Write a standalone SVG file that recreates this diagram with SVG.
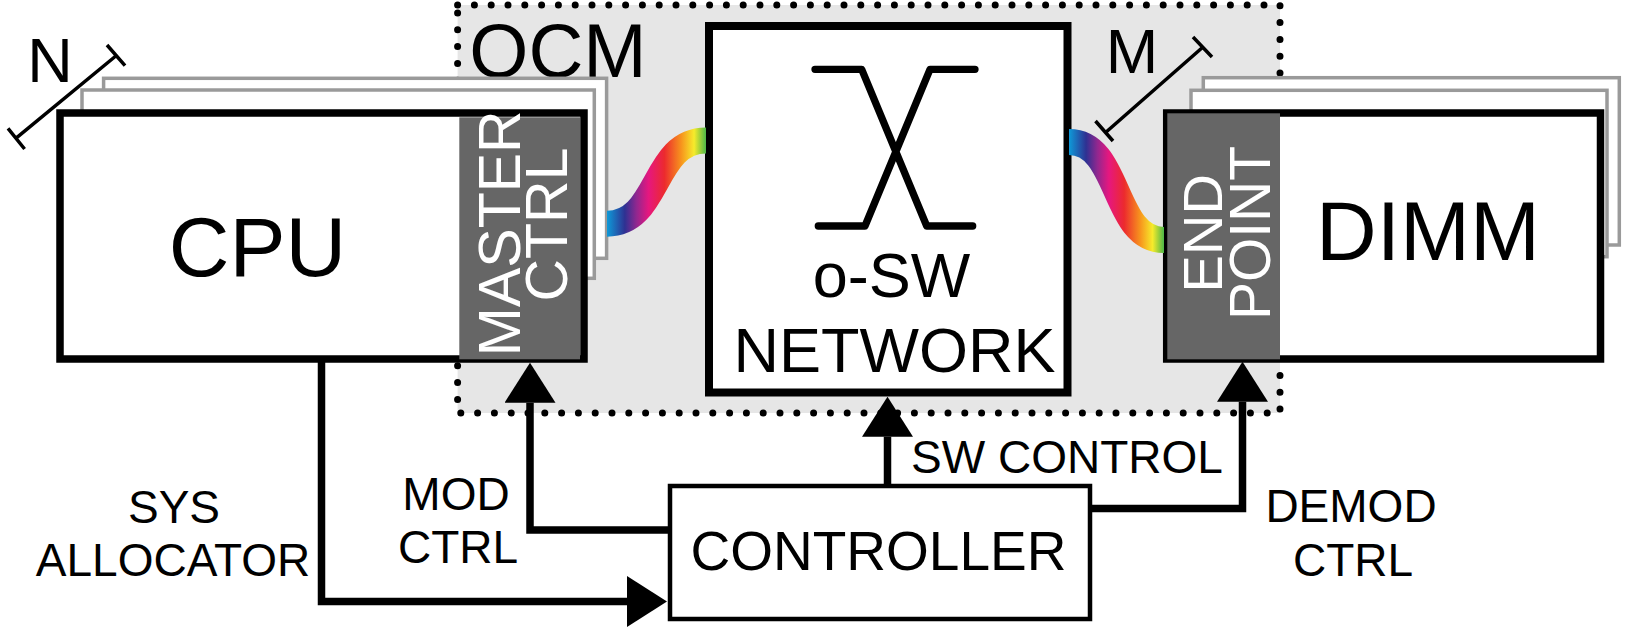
<svg xmlns="http://www.w3.org/2000/svg" width="1630" height="630" viewBox="0 0 1630 630">
<style>
text{font-family:"Liberation Sans",Arial,sans-serif;fill:#000}
.w{fill:#fff}
.back{fill:#fff;stroke:#9a9a9a;stroke-width:3.5}
.main{fill:#fff;stroke:#000;stroke-width:7.5}
.chip{fill:#666}
.conn{fill:none;stroke:#000;stroke-width:7.5;stroke-linejoin:miter}
.tick{fill:none;stroke:#000;stroke-width:3.5}
.wave{fill:none;stroke:url(#rainbow);stroke-width:26}
.lbl{font-size:46px;text-anchor:middle}
</style>
<defs>
<linearGradient id="rainbow" x1="0" y1="0" x2="1" y2="0">
<stop offset="0" stop-color="#0e9ad8"/>
<stop offset="0.18" stop-color="#2e3192"/>
<stop offset="0.3" stop-color="#92278f"/>
<stop offset="0.42" stop-color="#e6177f"/>
<stop offset="0.58" stop-color="#ec2a2e"/>
<stop offset="0.75" stop-color="#f7941d"/>
<stop offset="0.88" stop-color="#f6eb2b"/>
<stop offset="1" stop-color="#4cb748"/>
</linearGradient>
<marker id="ah" markerUnits="userSpaceOnUse" viewBox="0 0 40 51" markerWidth="40" markerHeight="51" refX="0" refY="25.5" orient="auto">
<path d="M0,0 L40,25.5 L0,51 z" fill="#000"/>
</marker>
</defs>

<g id="ocm">
<rect x="457.6" y="5" width="822.4" height="408" fill="#e6e6e6"/>
<rect x="457.6" y="5" width="822.4" height="408" fill="none" stroke="#000" stroke-width="7" stroke-linecap="round" stroke-dasharray="0 16.8"/>
<text x="558" y="77" style="font-size:76px;text-anchor:middle">OCM</text>
</g>

<g id="cpu">
<rect class="back" x="103.6" y="78.3" width="503" height="180"/>
<rect class="back" x="82" y="90" width="512.3" height="188.3"/>
<rect class="main" x="60" y="113" width="524" height="246"/>
<rect class="chip" x="459.3" y="117.3" width="120.7" height="242"/>
<text x="257.5" y="276" style="font-size:84px;text-anchor:middle">CPU</text>
<text class="w" transform="translate(520,233.3) rotate(-90)" style="font-size:59px;text-anchor:middle">MASTER</text>
<text class="w" transform="translate(566.7,224.5) rotate(-90)" style="font-size:59px;text-anchor:middle">CTRL</text>
</g>

<g id="dimm">
<rect class="back" x="1203.3" y="77.7" width="416" height="167.3"/>
<rect class="back" x="1191" y="90.3" width="416" height="166.4"/>
<rect class="main" x="1166.7" y="113" width="433.8" height="246"/>
<rect class="chip" x="1167.3" y="113.3" width="112.7" height="246"/>
<text x="1428" y="260" style="font-size:84px;text-anchor:middle">DIMM</text>
<text class="w" transform="translate(1221.7,233.3) rotate(-90)" style="font-size:56px;text-anchor:middle">END</text>
<text class="w" transform="translate(1270,233) rotate(-90)" style="font-size:57px;text-anchor:middle">POINT</text>
</g>

<g id="osw">
<rect x="709" y="26" width="358.5" height="366.5" fill="#fff" stroke="#000" stroke-width="8"/>
<path d="M815,69.3 H861.7 L926.7,226 H972.7 M975,69.3 H930 L865,226 H818.3" fill="none" stroke="#000" stroke-width="7.3" stroke-linecap="round" stroke-linejoin="round"/>
<text x="891.5" y="297" style="font-size:63px;text-anchor:middle">o-SW</text>
<text x="894.5" y="372" style="font-size:63px;text-anchor:middle">NETWORK</text>
</g>

<g id="controller">
<rect x="670" y="486" width="420" height="133" fill="#fff" stroke="#000" stroke-width="4.5"/>
<text x="878.5" y="570" style="font-size:55px;text-anchor:middle">CONTROLLER</text>
</g>

<g id="connectors">
<path class="wave" d="M607,223.7 C660,223.7 652,140.5 706,140.5"/>
<path class="wave" d="M1069,142 C1121,142 1112,240 1164,240"/>
<path class="conn" d="M321.5,359 V601.5 H627" marker-end="url(#ah)"/>
<path class="conn" d="M670,530 H530 V402.7" marker-end="url(#ah)"/>
<path class="conn" d="M887.5,486 V436.7" marker-end="url(#ah)"/>
<path class="conn" d="M1090,508.5 H1242.5 V401.7" marker-end="url(#ah)"/>
</g>

<g id="labels">
<text class="lbl" x="174" y="523">SYS</text>
<text class="lbl" x="173" y="576">ALLOCATOR</text>
<text class="lbl" x="456" y="510">MOD</text>
<text class="lbl" x="458" y="563">CTRL</text>
<text class="lbl" x="1067" y="473">SW CONTROL</text>
<text class="lbl" x="1351" y="522">DEMOD</text>
<text class="lbl" x="1353" y="576">CTRL</text>
</g>

<g id="n-count">
<path class="tick" d="M17,137.3 L117,55 M8,128.3 L24.6,149 M107,45 L125,65.7"/>
<text x="50" y="82" style="font-size:63px;text-anchor:middle">N</text>
</g>

<g id="m-count">
<path class="tick" d="M1105,133 L1203,47 M1095.5,121 L1113,141 M1193,37 L1212,57"/>
<text x="1132" y="73" style="font-size:63px;text-anchor:middle">M</text>
</g>
</svg>
